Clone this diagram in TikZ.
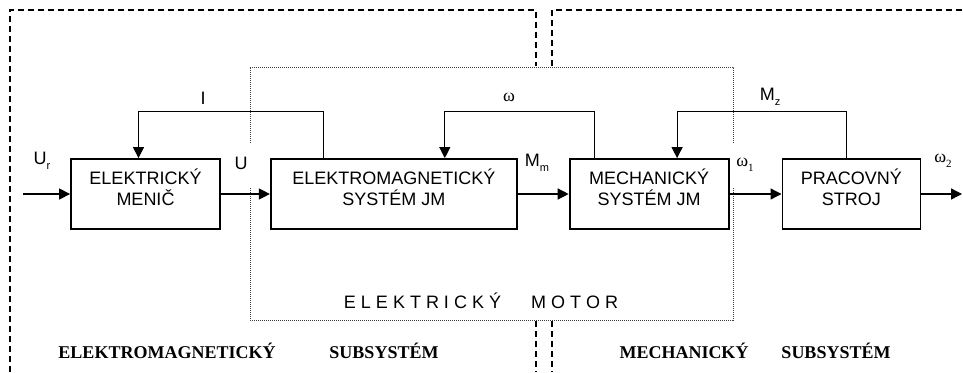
\documentclass[tikz,border=0pt]{standalone}
\usepackage{fontspec}
\setmainfont{Liberation Serif}
\setsansfont{Liberation Sans}
\usetikzlibrary{arrows.meta,positioning}

\newcommand{\lowsub}[1]{\raisebox{-0.3em}{\fontsize{11}{11}\selectfont #1}}

\begin{document}
\begin{tikzpicture}[
  x=1pt, y=-1pt,
  font=\sffamily\fontsize{18}{21}\selectfont,
  box/.style={draw, line width=1.8pt, align=center, inner sep=0pt,
              minimum height=70pt,
              execute at end node={\rule[-13pt]{0pt}{13pt}}},
  arr/.style={-{Triangle[length=11pt,width=11pt]}, line width=1.3pt},
  fb/.style={-{Triangle[length=11pt,width=11pt]}, line width=1.1pt},
  sig/.style={inner sep=0pt},
  wsig/.style={inner sep=0pt, font=\rmfamily\fontsize{18}{21}\selectfont},
  zone/.style={line width=2pt, dash pattern=on 6pt off 4pt},
  motor/.style={line width=0.8pt, black!75, dash pattern=on 1pt off 1pt},
  note/.style={inner sep=0pt, font=\rmfamily\bfseries\fontsize{18}{21}\selectfont}
]
\useasboundingbox (0,0) rectangle (963,372);

% subsystem zones
\draw[zone] (10,372) -- (10,10) -- (536,10) -- (536,66);
\draw[zone] (536,321) -- (536,372);
\draw[zone] (552,66) -- (552,10) -- (963,10);
\draw[zone] (552,321) -- (552,372);

% electric motor frame
\draw[motor] (250,143) -- (250,67) -- (733,67) -- (733,143);
\draw[motor] (250,188) -- (250,320) -- (733,320) -- (733,188);

% blocks
\node[box, minimum width=149pt] (menic) at (145.5,194) {ELEKTRICKÝ\\MENIČ};
\node[box, minimum width=246pt, right=49pt of menic] (emsys) {ELEKTROMAGNETICKÝ\\SYSTÉM JM};
\node[box, minimum width=159pt, right=51pt of emsys] (mechsys) {MECHANICKÝ\\SYSTÉM JM};
\node[box, minimum width=138pt, right=52pt of mechsys] (stroj) {PRACOVNÝ\\STROJ};

\coordinate (in) at (23,194);
\coordinate (out) at (962,194);

\draw[arr] (in) -- (menic);
\draw[arr] (menic) -- (emsys);
\draw[arr] (emsys) -- (mechsys);
\draw[arr] (mechsys) -- (stroj);
\draw[arr] (stroj) -- (out);

% feedbacks
\draw[fb] ([xshift=54pt]emsys.north west) -- ++(0,-47) -| ([xshift=-7pt]menic.north);
\draw[fb] ([xshift=26pt]mechsys.north west) -- ++(0,-47) -| ([xshift=51pt]emsys.north);
\draw[fb] ([xshift=-5pt]stroj.north) -- ++(0,-47) -| ([xshift=28pt]mechsys.north);

% signals
\node[sig] (lI) at (203,98) {I};
\node[wsig] (lw) at (509,97) {ω};
\node[sig] (lMz) at (770,97) {M\lowsub{z}};
\node[sig] (lUr) at (42,161) {U\lowsub{r}};
\node[sig] (lU) at (241,163) {U};
\node[sig] (lMm) at (537,163) {M\lowsub{m}};
\node[wsig] (lw1) at (745,165) {ω\lowsub{1}};
\node[wsig] (lw2) at (943,161) {ω\lowsub{2}};

\node[sig] (motor) at (481,301) {E L E K T R I C K Ý\hspace{30pt}M O T O R};

\node[note] (emsub) at (167,351) {ELEKTROMAGNETICKÝ};
\node[note] (emsubb) at (384,351) {SUBSYSTÉM};
\node[note] (mechsub) at (684,351) {MECHANICKÝ};
\node[note] (mechsubb) at (836,351) {SUBSYSTÉM};
\end{tikzpicture}
\end{document}
